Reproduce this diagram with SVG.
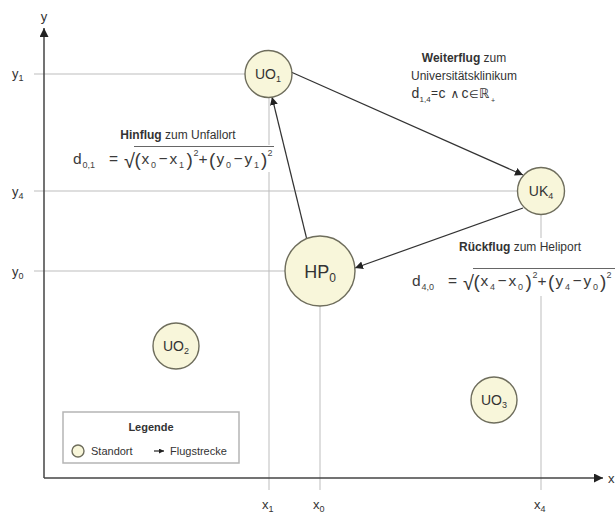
<svg xmlns="http://www.w3.org/2000/svg" width="615" height="515" viewBox="0 0 615 515">
  <style>
    text { font-family: "Liberation Sans", Arial, "DejaVu Sans", sans-serif; fill: #333; }
    .grid { stroke: #bdbdbd; stroke-width: 1; fill: none; }
    .axis { stroke: #444; stroke-width: 1.5; fill: none; }
    .edge { stroke: #333; stroke-width: 1.2; fill: none; marker-end: url(#head); }
    .node { fill: #f8f6da; stroke: #6e6d5c; stroke-width: 1.4; }
    .lbl { font-size: 12px; }
    .ax { font-size: 13px; }
    .axs { font-size: 9px; }
    .nl { font-size: 14px; text-anchor: middle; }
    .ns { font-size: 9px; }
    .f { font-size: 15.5px; fill: #3a3a3a; }
    .fs { font-size: 9px; fill: #444; }
    .p { font-size: 19px; fill: #3a3a3a; }
    .b { font-weight: bold; }
    .vinc { stroke: #666; stroke-width: 1; }
  </style>
  <defs>
    <marker id="head" viewBox="0 0 10 10" refX="10" refY="5" markerWidth="8" markerHeight="8" markerUnits="userSpaceOnUse" orient="auto">
      <path d="M0,0 L10,5 L0,10 z" fill="#222"/>
    </marker>
    <marker id="smallhead" viewBox="0 0 10 10" refX="10" refY="5" markerWidth="5" markerHeight="5" markerUnits="userSpaceOnUse" orient="auto">
      <path d="M0,0 L10,5 L0,10 z" fill="#222"/>
    </marker>
    <marker id="axhead" viewBox="0 0 10 10" refX="10" refY="5" markerWidth="9" markerHeight="9" markerUnits="userSpaceOnUse" orient="auto">
      <path d="M0,0 L10,5 L0,10 z" fill="#222"/>
    </marker>
  </defs>

  <rect width="615" height="515" fill="#fff"/>

  <!-- guide lines -->
  <g id="grid">
    <line class="grid" x1="34" y1="74" x2="245" y2="74"/>
    <line class="grid" x1="34" y1="191" x2="517" y2="191"/>
    <line class="grid" x1="34" y1="271" x2="285" y2="271"/>
    <line class="grid" x1="269" y1="97" x2="269" y2="490"/>
    <line class="grid" x1="320" y1="306" x2="320" y2="490"/>
    <line class="grid" x1="541" y1="214" x2="541" y2="490"/>
  </g>

  <!-- axes -->
  <g id="axes">
    <line class="axis" x1="44" y1="478" x2="44" y2="28" marker-end="url(#axhead)"/>
    <line class="axis" x1="44" y1="478" x2="603" y2="478" marker-end="url(#axhead)"/>
    <text class="ax" x="44" y="21" text-anchor="middle">y</text>
    <text class="ax" x="608" y="483">x</text>
    <text class="ax" x="12" y="78">y<tspan class="axs" dy="3">1</tspan></text>
    <text class="ax" x="12" y="196">y<tspan class="axs" dy="3">4</tspan></text>
    <text class="ax" x="12" y="276">y<tspan class="axs" dy="3">0</tspan></text>
    <text class="ax" x="262" y="509">x<tspan class="axs" dy="3">1</tspan></text>
    <text class="ax" x="313" y="509">x<tspan class="axs" dy="3">0</tspan></text>
    <text class="ax" x="534" y="509">x<tspan class="axs" dy="3">4</tspan></text>
  </g>

  <!-- formula backgrounds -->
  <rect x="70" y="145" width="210" height="27" fill="#fff"/>
  <rect x="410" y="238" width="205" height="58" fill="#fff"/>

  <!-- connectors -->
  <g id="connectors">
    <line class="edge" x1="306.5" y1="238" x2="272" y2="97"/>
    <line class="edge" x1="291" y1="72" x2="523" y2="175"/>
    <line class="edge" x1="523" y1="208" x2="355" y2="268"/>
  </g>

  <!-- locations -->
  <g id="UO1">
    <circle class="node" cx="268.5" cy="74" r="23.5"/>
    <text class="nl" x="268" y="79">UO<tspan class="ns" dy="3">1</tspan></text>
  </g>
  <g id="UK4">
    <circle class="node" cx="541" cy="191" r="23.5"/>
    <text class="nl" x="541" y="196">UK<tspan class="ns" dy="3">4</tspan></text>
  </g>
  <g id="HP0">
    <circle class="node" cx="320" cy="271" r="35"/>
    <text x="320" y="278" font-size="18" text-anchor="middle">HP<tspan font-size="12" dy="4">0</tspan></text>
  </g>
  <g id="UO2">
    <circle class="node" cx="176" cy="346" r="23"/>
    <text class="nl" x="176" y="351">UO<tspan class="ns" dy="3">2</tspan></text>
  </g>
  <g id="UO3">
    <circle class="node" cx="494" cy="400" r="23"/>
    <text class="nl" x="494" y="405">UO<tspan class="ns" dy="3">3</tspan></text>
  </g>

  <!-- outbound leg -->
  <g id="label-hinflug">
    <text class="lbl" x="178" y="139" text-anchor="middle"><tspan class="b">Hinflug</tspan> zum Unfallort</text>
    <g id="formula-hin">
      <text class="f" x="73" y="164">d</text>
      <text class="fs" x="82.5" y="168">0,1</text>
      <text class="f" x="109" y="164">=</text>
      <text x="124" y="168" font-size="20" fill="#3a3a3a">√</text>
      <line class="vinc" x1="134" y1="146.5" x2="274" y2="146.5"/>
      <text class="p" x="134.5" y="166">(</text>
      <text class="f" x="141.5" y="164">x</text>
      <text class="fs" x="151" y="168">0</text>
      <text class="f" x="158.5" y="164">−</text>
      <text class="f" x="169.5" y="164">x</text>
      <text class="fs" x="179" y="168">1</text>
      <text class="p" x="186.5" y="166">)</text>
      <text class="fs" x="193.5" y="156">2</text>
      <text class="f" x="198.5" y="164">+</text>
      <text class="p" x="209" y="166">(</text>
      <text class="f" x="216.5" y="164">y</text>
      <text class="fs" x="226" y="168">0</text>
      <text class="f" x="233.5" y="164">−</text>
      <text class="f" x="244.5" y="164">y</text>
      <text class="fs" x="254" y="168">1</text>
      <text class="p" x="261" y="166">)</text>
      <text class="fs" x="267.5" y="156">2</text>
    </g>
  </g>

  <!-- onward leg -->
  <g id="label-weiterflug">
    <text class="lbl" x="464" y="62" text-anchor="middle"><tspan class="b">Weiterflug</tspan> zum</text>
    <text class="lbl" x="464" y="80" text-anchor="middle">Universitätsklinikum</text>
    <text x="411.5" y="98" font-size="14" fill="#444">d</text>
    <text x="419.5" y="102" font-size="8" fill="#555">1,4</text>
    <text x="431" y="97" font-size="12" fill="#666">=</text>
    <text x="438.5" y="98" font-size="14" fill="#555">c</text>
    <text x="450.5" y="98" font-size="12" fill="#666">∧</text>
    <text x="461.5" y="98" font-size="14" fill="#555">c</text>
    <text x="469" y="98" font-size="11" fill="#666">∈</text>
    <text x="479" y="98" font-size="13" fill="#777">ℝ</text>
    <text x="491" y="103" font-size="7" fill="#888">+</text>
  </g>

  <!-- return leg -->
  <g id="label-rueckflug">
    <text class="lbl" x="520" y="251" text-anchor="middle"><tspan class="b">Rückflug</tspan> zum Heliport</text>
    <g id="formula-rueck" transform="translate(339,122)">
      <text class="f" x="73" y="164">d</text>
      <text class="fs" x="82.5" y="168">4,0</text>
      <text class="f" x="109" y="164">=</text>
      <text x="124" y="168" font-size="20" fill="#3a3a3a">√</text>
      <line class="vinc" x1="134" y1="146.5" x2="280" y2="146.5"/>
      <text class="p" x="134.5" y="166">(</text>
      <text class="f" x="141.5" y="164">x</text>
      <text class="fs" x="151" y="168">4</text>
      <text class="f" x="158.5" y="164">−</text>
      <text class="f" x="169.5" y="164">x</text>
      <text class="fs" x="179" y="168">0</text>
      <text class="p" x="186.5" y="166">)</text>
      <text class="fs" x="193.5" y="156">2</text>
      <text class="f" x="198.5" y="164">+</text>
      <text class="p" x="209" y="166">(</text>
      <text class="f" x="216.5" y="164">y</text>
      <text class="fs" x="226" y="168">4</text>
      <text class="f" x="233.5" y="164">−</text>
      <text class="f" x="244.5" y="164">y</text>
      <text class="fs" x="254" y="168">0</text>
      <text class="p" x="261" y="166">)</text>
      <text class="fs" x="267.5" y="156">2</text>
    </g>
  </g>

  <!-- legend -->
  <g id="legend">
    <rect x="63" y="412" width="176" height="51" fill="#fff" stroke="#b5b5b5" stroke-width="1.5"/>
    <text x="151" y="431" font-size="11" text-anchor="middle" class="b">Legende</text>
    <circle class="node" cx="78" cy="451" r="6"/>
    <text x="91" y="455" font-size="11">Standort</text>
    <line x1="154" y1="451" x2="164" y2="451" stroke="#222" stroke-width="1.2" marker-end="url(#smallhead)"/>
    <text x="170" y="455" font-size="11">Flugstrecke</text>
  </g>
</svg>
